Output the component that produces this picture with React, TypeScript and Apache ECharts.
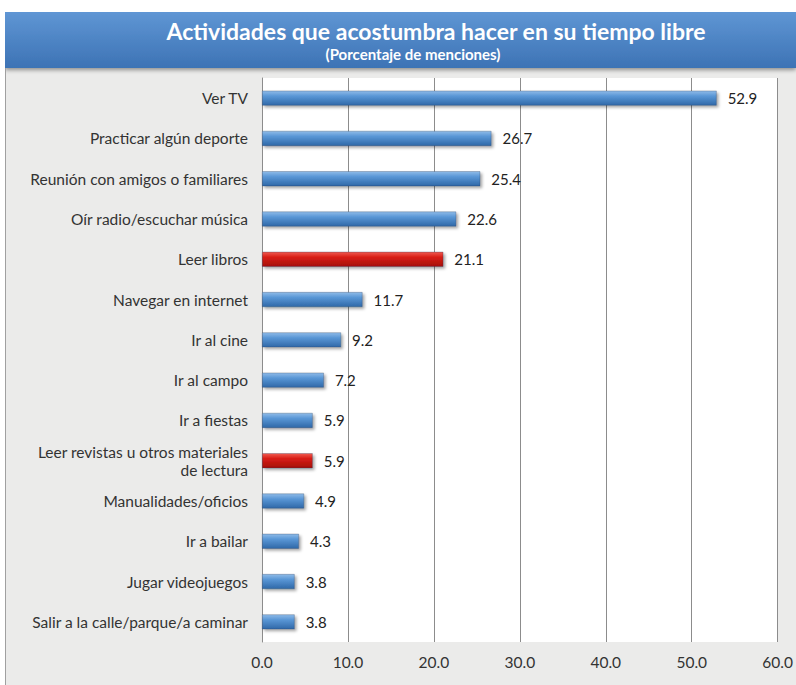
import React, { useEffect, useRef } from "react";
import * as echarts from "echarts";

const categories = [
  "Ver TV",
  "Practicar algún deporte",
  "Reunión con amigos o familiares",
  "Oír radio/escuchar música",
  "Leer libros",
  "Navegar en internet",
  "Ir al cine",
  "Ir al campo",
  "Ir a fiestas",
  "Leer revistas u otros materiales\nde lectura",
  "Manualidades/oficios",
  "Ir a bailar",
  "Jugar videojuegos",
  "Salir a la calle/parque/a caminar",
];
const values = [52.9, 26.7, 25.4, 22.6, 21.1, 11.7, 9.2, 7.2, 5.9, 5.9, 4.9, 4.3, 3.8, 3.8];
const highlighted = [false, false, false, false, true, false, false, false, false, true, false, false, false, false];
const xTicks = [0, 10, 20, 30, 40, 50, 60];

const FONT = "Lato, 'Open Sans', sans-serif";

export default function App() {
  const ref = useRef<HTMLDivElement>(null);
  useEffect(() => {
    if (!ref.current) return;
    const chart = echarts.init(ref.current, null, { renderer: "svg" });
    const blue = new echarts.graphic.LinearGradient(0, 0, 0, 1, [
      { offset: 0, color: "#8fbbe8" },
      { offset: 0.35, color: "#5a97d6" },
      { offset: 1, color: "#2f68a8" },
    ]);
    const red = new echarts.graphic.LinearGradient(0, 0, 0, 1, [
      { offset: 0, color: "#f05a50" },
      { offset: 0.35, color: "#d81e16" },
      { offset: 1, color: "#a50e0a" },
    ]);
    chart.setOption({
      animation: false,
      backgroundColor: "#ebebea",
      graphic: [
        {
          type: "rect",
          shape: { x: 5, y: 12, width: 791, height: 56 },
          style: {
            fill: new echarts.graphic.LinearGradient(0, 0, 0, 1, [
              { offset: 0, color: "#5f96d4" },
              { offset: 1, color: "#3d73b5" },
            ]),
            shadowBlur: 4,
            shadowColor: "rgba(0,0,0,0.4)",
            shadowOffsetY: 2,
          },
        },
        {
          type: "rect",
          shape: { x: 0, y: 0, width: 796, height: 12 },
          style: { fill: "#ffffff" },
        },
        {
          type: "rect",
          shape: { x: 0, y: 12, width: 5, height: 673 },
          style: { fill: "#ffffff" },
        },
        {
          type: "line",
          shape: { x1: 5.5, y1: 68, x2: 5.5, y2: 685 },
          style: { stroke: "#a0a0a0", lineWidth: 1 },
        },
        {
          type: "text",
          x: 436,
          y: 31,
          style: {
            text: "Actividades que acostumbra hacer en su tiempo libre",
            fill: "#ffffff",
            font: `bold 23px ${FONT}`,
            align: "center",
            verticalAlign: "middle",
          },
        },
        {
          type: "text",
          x: 413,
          y: 54,
          style: {
            text: "(Porcentaje de menciones)",
            fill: "#ffffff",
            font: `bold 15px ${FONT}`,
            align: "center",
            verticalAlign: "middle",
          },
        },
      ],
      grid: {
        left: 262,
        width: 516,
        top: 78,
        bottom: 43,
        backgroundColor: "#ffffff",
        show: true,
        borderWidth: 0,
      },
      xAxis: {
        type: "value",
        min: 0,
        max: 60,
        interval: 10,
        axisLine: { show: false },
        axisTick: { show: false },
        splitLine: { show: true, lineStyle: { color: "#8c8c8c", width: 1 } },
        axisLabel: {
          formatter: (v: number) => (xTicks.includes(v) ? v.toFixed(1) : ""),
          color: "#333",
          fontFamily: FONT,
          fontSize: 15.5,
          margin: 12,
        },
      },
      yAxis: {
        type: "category",
        data: categories,
        inverse: true,
        axisLine: { show: true, lineStyle: { color: "#8c8c8c" } },
        axisTick: { show: false },
        axisLabel: {
          color: "#333",
          fontFamily: FONT,
          fontSize: 15.5,
          margin: 14,
          align: "right",
          lineHeight: 18,
        },
      },
      series: [
        {
          type: "bar",
          data: values.map((v, i) => ({
            value: v,
            itemStyle: { color: highlighted[i] ? red : blue },
          })),
          barWidth: 15,
          itemStyle: {
            borderColor: "rgba(40,60,90,0.5)",
            borderWidth: 0.6,
            shadowBlur: 3,
            shadowColor: "rgba(0,0,0,0.35)",
            shadowOffsetX: 2,
            shadowOffsetY: 2,
          },
          label: {
            show: true,
            position: "right",
            distance: 11,
            formatter: (p: any) => p.value.toFixed(1),
            color: "#222",
            fontFamily: FONT,
            fontSize: 15,
          },
        },
      ],
    });
    return () => chart.dispose();
  }, []);
  return (
    <div
      ref={ref}
      style={{ position: "fixed", left: 0, top: 0, width: 796, height: 685 }}
    />
  );
}
